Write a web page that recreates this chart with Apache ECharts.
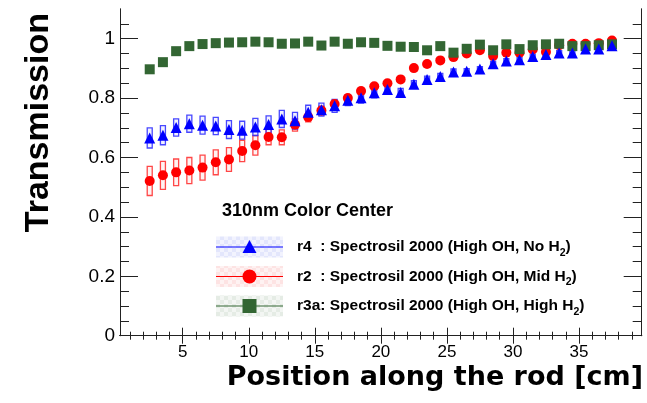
<!DOCTYPE html>
<html>
<head>
<meta charset="utf-8">
<script src="https://cdn.jsdelivr.net/npm/echarts@6/dist/echarts.min.js"></script>
<style>
  html, body { margin: 0; padding: 0; background: #ffffff; }
  #chart { width: 647px; height: 403px; }
</style>
</head>
<body>
<div id="chart"></div>
<script>
// Measurement positions along the rod [cm]
const positions = [2.5, 3.5, 4.5, 5.5, 6.5, 7.5, 8.5, 9.5, 10.5, 11.5, 12.5, 13.5,
  14.5, 15.5, 16.5, 17.5, 18.5, 19.5, 20.5, 21.5, 22.5, 23.5, 24.5, 25.5,
  26.5, 27.5, 28.5, 29.5, 30.5, 31.5, 32.5, 33.5, 34.5, 35.5, 36.5, 37.5];

// r4: Spectrosil 2000 (High OH, No H2)
const r4Values = [0.666, 0.675, 0.701, 0.714, 0.709, 0.706, 0.694, 0.692, 0.703, 0.711, 0.730, 0.724,
  0.752, 0.761, 0.774, 0.793, 0.801, 0.818, 0.829, 0.819, 0.847, 0.863, 0.873, 0.888,
  0.890, 0.898, 0.916, 0.925, 0.929, 0.940, 0.947, 0.952, 0.952, 0.965, 0.965, 0.976];
const r4Errors = [0.034, 0.032, 0.029, 0.029, 0.030, 0.029, 0.030, 0.030, 0.029, 0.029, 0.029, 0.028,
  0.024, 0.022, 0.022, 0.018, 0.018, 0.017, 0.015, 0.014, 0.012, 0.011, 0.010, 0.010,
  0.009, 0.008, 0.008, 0.008, 0.008, 0.008, 0.008, 0.008, 0.008, 0.008, 0.008, 0.008];

// r2: Spectrosil 2000 (High OH, Mid H2)
const r2Values = [0.521, 0.540, 0.550, 0.556, 0.566, 0.584, 0.593, 0.622, 0.641, 0.669, 0.668, 0.710,
  0.736, 0.758, 0.780, 0.800, 0.824, 0.840, 0.850, 0.863, 0.901, 0.915, 0.927, 0.938,
  0.950, 0.961, 0.942, 0.953, 0.953, 0.964, 0.955, 0.978, 0.983, 0.983, 0.985, 0.994];
const r2Errors = [0.049, 0.047, 0.045, 0.044, 0.042, 0.042, 0.040, 0.036, 0.033, 0.026, 0.025, 0.021,
  0.016, 0.015, 0.013, 0.012, 0.010, 0.009, 0.008, 0.008, 0.007, 0.007, 0.006, 0.006,
  0.006, 0.005, 0.005, 0.005, 0.005, 0.005, 0.005, 0.005, 0.005, 0.005, 0.005, 0.005];

// r3a: Spectrosil 2000 (High OH, High H2)
const r3aValues = [0.897, 0.921, 0.958, 0.975, 0.982, 0.985, 0.987, 0.988, 0.990, 0.988, 0.983, 0.984,
  0.990, 0.977, 0.990, 0.983, 0.988, 0.986, 0.976, 0.973, 0.972, 0.961, 0.975, 0.953,
  0.966, 0.980, 0.961, 0.981, 0.965, 0.978, 0.981, 0.983, 0.975, 0.975, 0.978, 0.981];

// Axis ticks
const xMajorTicks = [5, 10, 15, 20, 25, 30, 35];
const xMinorTicks = [1, 2, 3, 4, 6, 7, 8, 9, 11, 12, 13, 14, 16, 17, 18, 19, 21, 22, 23, 24,
  26, 27, 28, 29, 31, 32, 33, 34, 36, 37, 38, 39];
const yMajorTicks = [0, 0.2, 0.4, 0.6, 0.8, 1];
const yMinorTicks = [0.05, 0.1, 0.15, 0.25, 0.3, 0.35, 0.45, 0.5, 0.55, 0.65, 0.7, 0.75,
  0.85, 0.9, 0.95, 1.05];

const xTitle = 'Position along the rod [cm]';
const yTitle = 'Transmission';
const legendTitle = '310nm Color Center';
const legendEntries = [
  { key: 'r4', tag: 'r4  ', color: '#0000ff', light: '#e3e6fc', lighter: '#f2f3fe', symbol: 'triangle', text: 'High OH, No H' },
  { key: 'r2', tag: 'r2  ', color: '#ff0000', light: '#fde3e3', lighter: '#fef2f2', symbol: 'circle', text: 'High OH, Mid H' },
  { key: 'r3a', tag: 'r3a', color: '#336633', light: '#e5ece5', lighter: '#f3f6f3', symbol: 'rect', text: 'High OH, High H' }
];

const X_MIN = 0.25, X_MAX = 39.75, Y_MIN = 0, Y_MAX = 1.1;
const AXIS_COLOR = '#222222';
const LABEL_FONT = '"Liberation Sans", Arial, Helvetica, sans-serif';

function pairs(values) { return positions.map((x, i) => [x, values[i]]); }
function boxes(values, errs) { return positions.map((x, i) => [x, values[i], errs[i]]); }

function xAxisDef(pos, ticks, len, labels) {
  return {
    type: 'value', position: pos, min: X_MIN, max: X_MAX,
    axisLine: { show: true, lineStyle: { color: AXIS_COLOR, width: 1 } },
    axisTick: { show: true, inside: true, length: len, customValues: ticks, lineStyle: { color: AXIS_COLOR, width: 1 } },
    axisLabel: labels ? {
      show: true, customValues: ticks, margin: 8, color: '#000',
      fontFamily: LABEL_FONT, fontSize: 17, formatter: v => String(v)
    } : { show: false },
    splitLine: { show: false }
  };
}
function yAxisDef(pos, ticks, len, labels) {
  return {
    type: 'value', position: pos, min: Y_MIN, max: Y_MAX,
    axisLine: { show: true, lineStyle: { color: AXIS_COLOR, width: 1 } },
    axisTick: { show: true, inside: true, length: len, customValues: ticks, lineStyle: { color: AXIS_COLOR, width: 1 } },
    axisLabel: labels ? {
      show: true, customValues: ticks, margin: 5, color: '#000',
      fontFamily: LABEL_FONT, fontSize: 19, formatter: v => String(v)
    } : { show: false },
    splitLine: { show: false }
  };
}

function boxSeries(name, values, errs, stroke, fill) {
  return {
    type: 'custom', name: name, xAxisIndex: 0, yAxisIndex: 0, z: 2, silent: true,
    data: boxes(values, errs),
    renderItem: function (params, api) {
      const x = api.value(0), y = api.value(1), e = api.value(2);
      const top = api.coord([x, y + e]);
      const bot = api.coord([x, y - e]);
      const w = 5;
      return {
        type: 'rect',
        shape: { x: top[0] - w / 2, y: top[1], width: w, height: bot[1] - top[1] },
        style: { fill: fill, stroke: stroke, lineWidth: 1.3 }
      };
    }
  };
}

function checker(light, lighter) {
  const c = document.createElement('canvas');
  c.width = 8; c.height = 8;
  const g = c.getContext('2d');
  g.fillStyle = lighter; g.fillRect(0, 0, 8, 8);
  g.fillStyle = light; g.fillRect(0, 0, 4, 4); g.fillRect(4, 4, 4, 4);
  return c;
}

// Legend block, drawn with graphic elements
const LEG_X0 = 216, LEG_X1 = 283, LEG_ROW0 = 247, LEG_DY = 29.5, LEG_TEXT_X = 297;
const graphics = [{
  type: 'text', left: 222, top: 202,
  style: { text: legendTitle, fill: '#000', font: 'bold 18px ' + LABEL_FONT }
}];
legendEntries.forEach((e, i) => {
  const cy = LEG_ROW0 + i * LEG_DY;
  const cx = (LEG_X0 + LEG_X1) / 2;
  graphics.push({
    type: 'rect', shape: { x: LEG_X0, y: cy - 10.5, width: LEG_X1 - LEG_X0, height: 21 },
    style: { fill: { image: checker(e.light, e.lighter), repeat: 'repeat' } }, silent: true
  });
  graphics.push({
    type: 'line', shape: { x1: LEG_X0, y1: cy, x2: LEG_X1, y2: cy },
    style: { stroke: e.color, lineWidth: 1.2 }, silent: true
  });
  const s = 7;
  if (e.symbol === 'triangle') {
    graphics.push({ type: 'polygon', shape: { points: [[cx, cy - s], [cx + s, cy + s - 1], [cx - s, cy + s - 1]] }, style: { fill: e.color } });
  } else if (e.symbol === 'circle') {
    graphics.push({ type: 'circle', shape: { cx: cx, cy: cy, r: s }, style: { fill: e.color } });
  } else {
    graphics.push({ type: 'rect', shape: { x: cx - s, y: cy - s, width: 2 * s, height: 2 * s }, style: { fill: e.color } });
  }
  graphics.push({
    type: 'text', x: LEG_TEXT_X, y: cy,
    style: {
      text: '{m|' + e.tag + ': Spectrosil 2000 (' + e.text + '}{s|2}{m|)}',
      verticalAlign: 'middle',
      rich: {
        m: { fontFamily: LABEL_FONT, fontWeight: 'bold', fontSize: 15.5, lineHeight: 22, verticalAlign: 'middle', fill: '#000' },
        s: { fontFamily: LABEL_FONT, fontWeight: 'bold', fontSize: 10.5, lineHeight: 22, verticalAlign: 'middle', padding: [12, 0, 0, 0], fill: '#000' }
      }
    }
  });
});

// Axis titles
graphics.push({
  type: 'text', x: 643, y: 378,
  style: { text: xTitle, align: 'right', verticalAlign: 'middle',
    font: 'bold 27px "DejaVu Sans", sans-serif', fill: '#000' }
});
graphics.push({
  type: 'text', x: 39, y: 13, rotation: Math.PI / 2,
  style: { text: yTitle, align: 'right', verticalAlign: 'middle',
    font: 'bold 34px ' + LABEL_FONT, fill: '#000' }
});

const chart = echarts.init(document.getElementById('chart'), null, { renderer: 'canvas' });
chart.setOption({
  animation: false,
  backgroundColor: '#ffffff',
  grid: { left: 120, top: 9, width: 521.7, height: 326.7, containLabel: false },
  xAxis: [
    xAxisDef('bottom', xMajorTicks, 8, true),
    xAxisDef('bottom', xMinorTicks, 4, false),
    xAxisDef('top', xMajorTicks, 8, false),
    xAxisDef('top', xMinorTicks, 4, false)
  ],
  yAxis: [
    yAxisDef('left', yMajorTicks, 18, true),
    yAxisDef('left', yMinorTicks, 9, false),
    yAxisDef('right', yMajorTicks, 18, false),
    yAxisDef('right', yMinorTicks, 9, false)
  ],
  series: [
    boxSeries('r2 syst', r2Values, r2Errors, 'rgba(255,40,40,0.85)', 'rgba(255,220,220,0.35)'),
    boxSeries('r4 syst', r4Values, r4Errors, 'rgba(40,40,255,0.85)', 'rgba(215,215,255,0.35)'),
    { type: 'scatter', name: 'r2', data: pairs(r2Values), symbol: 'circle', symbolSize: 10,
      itemStyle: { color: '#ff0000', opacity: 1 }, z: 3 },
    { type: 'scatter', name: 'r3a', data: pairs(r3aValues), symbol: 'rect', symbolSize: 10,
      itemStyle: { color: '#336633', opacity: 1 }, z: 4 },
    { type: 'scatter', name: 'r4', data: pairs(r4Values), symbol: 'triangle', symbolSize: 11,
      itemStyle: { color: '#0000ff', opacity: 1 }, z: 5 }
  ],
  graphic: graphics
});
</script>
</body>
</html>
